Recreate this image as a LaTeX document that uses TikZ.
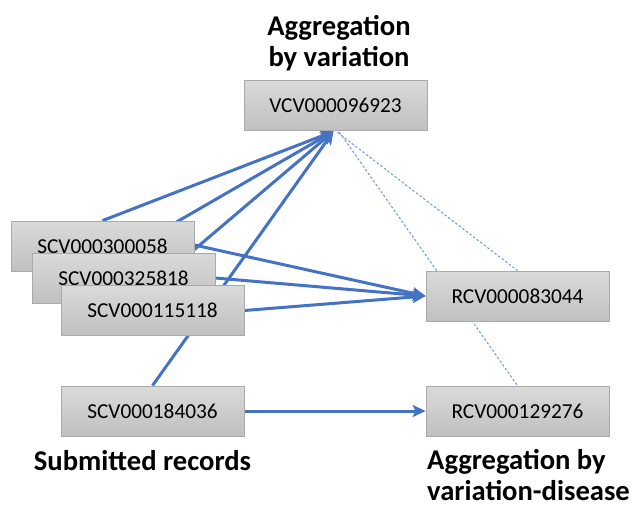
\documentclass[tikz,border=0pt]{standalone}
\usepackage{fontspec}
\setmainfont{Carlito}
\usetikzlibrary{arrows.meta,backgrounds}
\definecolor{edgeblue}{RGB}{68,114,196}
\definecolor{dashblue}{RGB}{110,150,220}
\definecolor{boxtop}{RGB}{218,218,218}
\definecolor{boxbot}{RGB}{192,192,192}
\definecolor{boxline}{RGB}{170,170,170}
\tikzset{
  rec/.style={draw=boxline, line width=0.8pt, top color=boxtop, bottom color=boxbot,
    minimum width=183pt, minimum height=50pt, inner sep=0pt,
    font=\fontsize{21.3}{25}\selectfont},
  title/.style={font=\fontsize{28.6}{31.5}\selectfont\bfseries, inner sep=0pt},
  link/.style={draw=edgeblue, line width=3pt, -{Stealth[length=13pt,width=12pt,inset=3pt]}},
  weak/.style={draw=dashblue, line width=1pt, dash pattern=on 2.5pt off 2pt}
}
\begin{document}
\begin{tikzpicture}[x=1pt,y=-1pt]
\useasboundingbox (0,0) rectangle (635,507);
\node[title, align=center, anchor=north] (t1) at (339,15) {Aggregation\\by variation};
\node[rec] (vcv) at (335.5,105) {VCV000096923};
\node[rec] (s1) at (102.5,246) {SCV000300058};
\node[rec] (s2) at (123.5,278) {SCV000325818};
\node[rec] (s3) at (152.5,310.5) {SCV000115118};
\node[rec] (s4) at (152.5,411) {SCV000184036};
\node[rec] (r1) at (517.5,296) {RCV000083044};
\node[rec] (r2) at (517.5,411) {RCV000129276};
\node[title, anchor=base] (t2) at (142.5,470) {Submitted records};
\node[title, align=left, anchor=north west] (t3) at (427,449) {Aggregation by\\variation-disease};
\begin{scope}[on background layer]
\draw[link] (s1.north) -- ([xshift=-2pt,yshift=-1pt]vcv.south);
\draw[link] (s2.north) -- ([xshift=-2pt,yshift=-1pt]vcv.south);
\draw[link] (s3.north) -- ([xshift=-2pt,yshift=-1pt]vcv.south);
\draw[link] (s4.north) -- ([xshift=-2pt,yshift=-1pt]vcv.south);
\draw[link] ([yshift=1pt]s1.east) -- (r1.west);
\draw[link] (s2.east) -- (r1.west);
\draw[link] (s3.east) -- (r1.west);
\draw[link] (s4.east) -- (r2.west);
\draw[weak] ([xshift=2pt,yshift=-2pt]vcv.south) -- (r1.north);
\draw[weak] ([xshift=4pt,yshift=-2pt]vcv.south) -- (r2.north);
\end{scope}
\end{tikzpicture}
\end{document}
